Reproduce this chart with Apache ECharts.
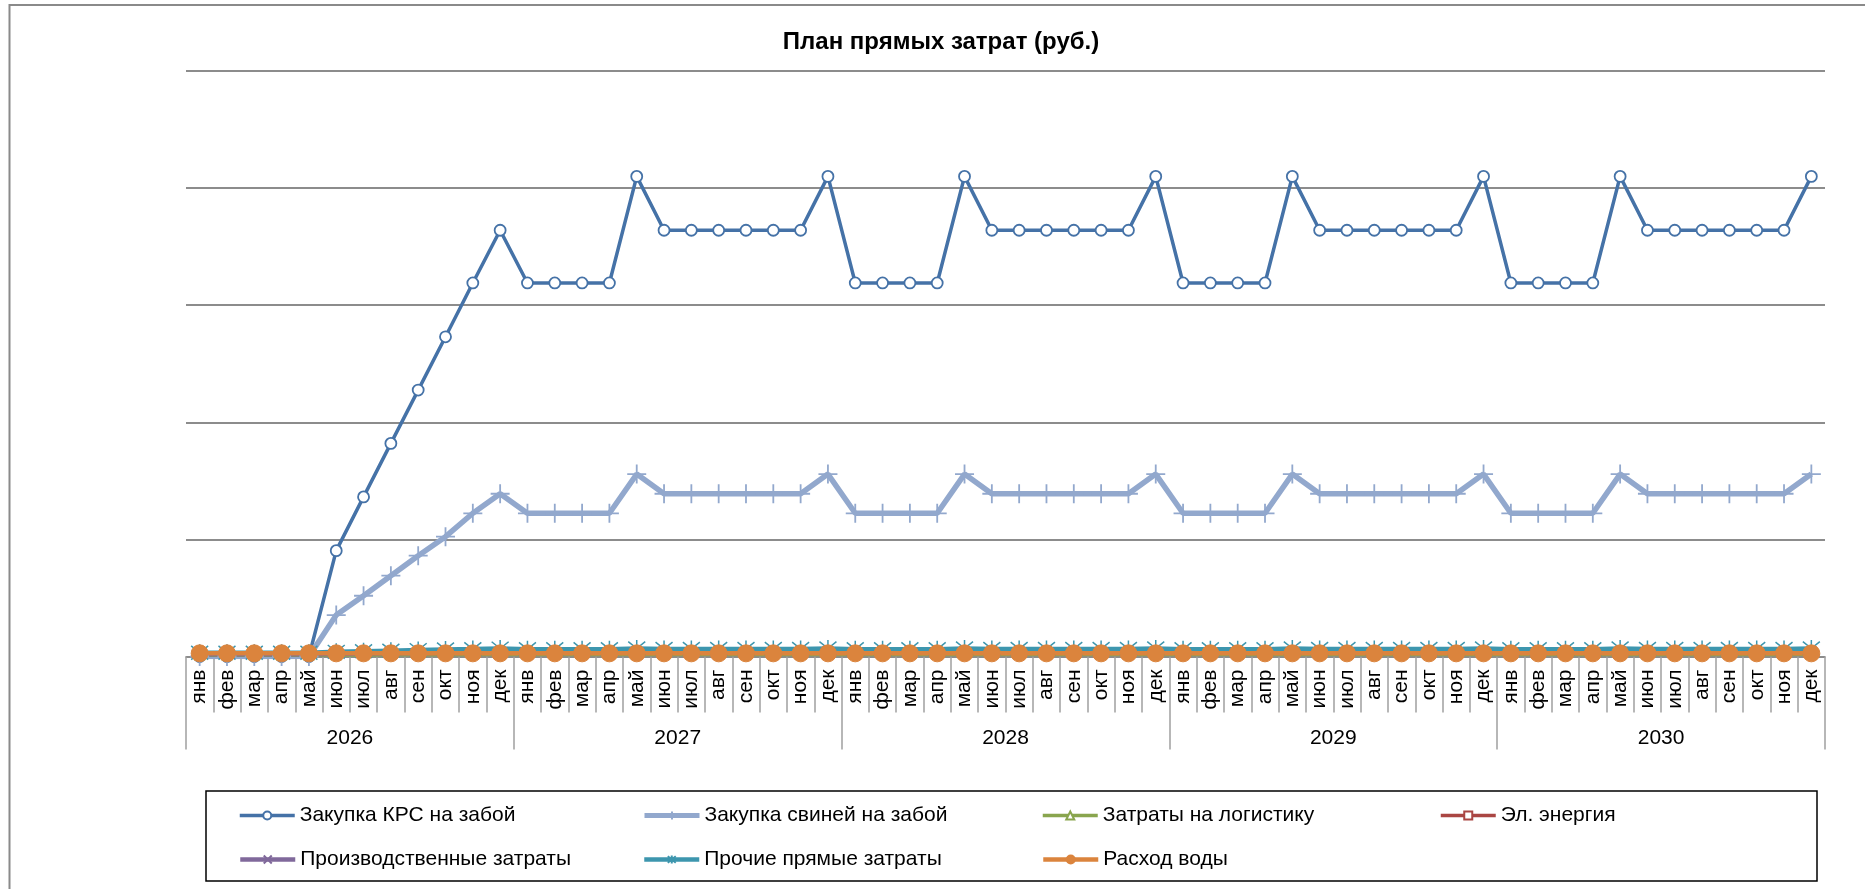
<!DOCTYPE html>
<html>
<head>
<meta charset="utf-8">
<script src="https://cdn.jsdelivr.net/npm/echarts@6/dist/echarts.min.js"></script>
<style>
html,body{margin:0;padding:0;background:#fff;}
#chart{width:1865px;height:889px;}
</style>
</head>
<body>
<div id="chart"></div>
<script>
// ---- data (thousand rubles) ----
const months = ['янв','фев','мар','апр','май','июн','июл','авг','сен','окт','ноя','дек'];
const years = ['2026','2027','2028','2029','2030'];

const krs = [
  0,0,0,0,0,9040,13630,18200,22750,27300,31900,36400,
  31900,31900,31900,31900,41000,36400,36400,36400,36400,36400,36400,41000,
  31900,31900,31900,31900,41000,36400,36400,36400,36400,36400,36400,41000,
  31900,31900,31900,31900,41000,36400,36400,36400,36400,36400,36400,41000,
  31900,31900,31900,31900,41000,36400,36400,36400,36400,36400,36400,41000
];
const pigs = [
  0,0,0,0,0,3540,5190,6900,8610,10230,12230,13900,
  12230,12230,12230,12230,15580,13900,13900,13900,13900,13900,13900,15580,
  12230,12230,12230,12230,15580,13900,13900,13900,13900,13900,13900,15580,
  12230,12230,12230,12230,15580,13900,13900,13900,13900,13900,13900,15580,
  12230,12230,12230,12230,15580,13900,13900,13900,13900,13900,13900,15580
];
const logistics = [
  100,100,100,100,100,120,130,140,150,160,170,180,
  170,170,170,170,190,180,180,180,180,180,180,190,
  170,170,170,170,190,180,180,180,180,180,180,190,
  170,170,170,170,190,180,180,180,180,180,180,190,
  170,170,170,170,190,180,180,180,180,180,180,190
];
const energy = [
  280,280,280,280,280,330,350,370,380,390,400,410,
  400,400,400,400,420,410,410,410,410,410,410,420,
  400,400,400,400,420,410,410,410,410,410,410,420,
  400,400,400,400,420,410,410,410,410,410,410,420,
  400,400,400,400,420,410,410,410,410,410,410,420
];
const production = [
  200,200,200,200,200,230,250,270,290,300,310,320,
  310,310,310,310,330,320,320,320,320,320,320,330,
  310,310,310,310,330,320,320,320,320,320,320,330,
  310,310,310,310,330,320,320,320,320,320,320,330,
  310,310,310,310,330,320,320,320,320,320,320,330
];
const other = [
  320,320,320,320,320,400,450,500,550,600,630,680,
  620,620,620,620,690,650,650,650,650,650,650,690,
  620,620,620,620,690,650,650,650,650,650,650,690,
  620,620,620,620,690,650,650,650,650,650,650,690,
  620,620,620,620,690,650,650,650,650,650,650,690
];
const water = [
  270,270,270,270,270,270,270,270,270,270,270,270,
  270,270,270,270,270,270,270,270,270,270,270,270,
  270,270,270,270,270,270,270,270,270,270,270,270,
  270,270,270,270,270,270,270,270,270,270,270,270,
  270,270,270,270,270,270,270,270,270,270,270,270
];
const names = ['Закупка КРС на забой','Закупка свиней на забой','Затраты на логистику','Эл. энергия','Производственные затраты','Прочие прямые затраты','Расход воды'];

// categories built from months x years
const cats = [];
years.forEach(function(){ months.forEach(function(m){ cats.push(m); }); });

const FONT = "'Liberation Sans', Arial, sans-serif";
const chart = echarts.init(document.getElementById('chart'));

const plusPath = 'path://M-10,0L10,0M0,-10L0,10';
const xPath = 'path://M-10,-10L10,10M-10,10L10,-10';
const starPath = 'path://M0,-10L0,10M-8,-8L8,8M-8,8L8,-8';

function legendAt(name, left, top, lw){
  return {
    data:[name], left:left, top:top, orient:'horizontal',
    itemWidth:55, itemHeight:10, padding:0,
    lineStyle:{width:lw},
    textStyle:{fontFamily:FONT, fontSize:21, color:'#000'},
    selectedMode:false
  };
}

const option = {
  animation:false,
  backgroundColor:'#fff',
  title:{
    text:'План прямых затрат (руб.)',
    left:936, top:25, textAlign:'center',
    textStyle:{fontFamily:FONT, fontSize:24, fontWeight:'bold', color:'#000'}
  },
  graphic:[
    {type:'rect', shape:{x:9.5, y:5, width:1900, height:1000}, style:{fill:'none', stroke:'#8a8a8a', lineWidth:2}, silent:true},
    {type:'rect', shape:{x:206, y:791, width:1611, height:90}, style:{fill:'none', stroke:'#000', lineWidth:1.5}, silent:true}
  ],
  legend:[
    legendAt(names[0], 238, 805, 3.5),
    legendAt(names[1], 642, 805, 5),
    legendAt(names[2], 1041, 805, 3.5),
    legendAt(names[3], 1439, 805, 3.5),
    legendAt(names[4], 238, 849, 4.5),
    legendAt(names[5], 642, 849, 4.5),
    legendAt(names[6], 1041, 849, 4.5)
  ],
  grid:{left:186, right:40, top:71, bottom:232.5, containLabel:false},
  xAxis:[
    {
      type:'category', data:cats, position:'bottom', offset:0, boundaryGap:true,
      axisLine:{show:true, lineStyle:{color:'#8c8c8c', width:1.5}},
      axisTick:{show:true, interval:0, length:56, lineStyle:{color:'#a0a0a0', width:1.5}},
      axisLabel:{interval:0, rotate:90, margin:13, fontFamily:FONT, fontSize:21, color:'#000'},
      splitLine:{show:false}
    },
    {
      type:'category', data:years, position:'bottom', offset:0, boundaryGap:true,
      axisLine:{show:false},
      axisTick:{show:true, interval:0, length:93, lineStyle:{color:'#a0a0a0', width:1.5}},
      axisLabel:{interval:0, margin:71, fontFamily:FONT, fontSize:21, color:'#000'},
      splitLine:{show:false}
    }
  ],
  yAxis:{
    type:'value', min:0, max:50000, interval:10000,
    axisLine:{show:false}, axisTick:{show:false}, axisLabel:{show:false},
    splitLine:{show:true, lineStyle:{color:'#8c8c8c', width:2}}
  },
  series:[
    {name:names[0], type:'line', data:krs, xAxisIndex:0,
     symbol:'circle', symbolSize:11, showAllSymbol:true,
     lineStyle:{color:'#4572A7', width:3.5},
     itemStyle:{color:'#ffffff', borderColor:'#4572A7', borderWidth:1.8}},
    {name:names[1], type:'line', data:pigs, xAxisIndex:0,
     symbol:plusPath, symbolSize:19, showAllSymbol:true,
     lineStyle:{color:'#92A8CD', width:5.5},
     itemStyle:{color:'#92A8CD', borderColor:'#92A8CD', borderWidth:1.8}},
    {name:names[2], type:'line', data:logistics, xAxisIndex:0,
     symbol:'triangle', symbolSize:9, showAllSymbol:true,
     lineStyle:{color:'#89A54E', width:3.5},
     itemStyle:{color:'#ffffff', borderColor:'#89A54E', borderWidth:1.5}},
    {name:names[3], type:'line', data:energy, xAxisIndex:0,
     symbol:'rect', symbolSize:9, showAllSymbol:true,
     lineStyle:{color:'#AA4643', width:3.5},
     itemStyle:{color:'#ffffff', borderColor:'#AA4643', borderWidth:1.5}},
    {name:names[4], type:'line', data:production, xAxisIndex:0,
     symbol:xPath, symbolSize:10, showAllSymbol:true,
     lineStyle:{color:'#80699B', width:4.5},
     itemStyle:{color:'#80699B', borderColor:'#80699B', borderWidth:1.5}},
    {name:names[5], type:'line', data:other, xAxisIndex:0,
     symbol:starPath, symbolSize:17, showAllSymbol:true,
     lineStyle:{color:'#3D96AE', width:4.5},
     itemStyle:{color:'#3D96AE', borderColor:'#3D96AE', borderWidth:1.5}},
    {name:names[6], type:'line', data:water, xAxisIndex:0,
     symbol:'circle', symbolSize:17, showAllSymbol:true,
     lineStyle:{color:'#DB843D', width:4.5},
     itemStyle:{color:'#DB843D', borderColor:'#DB843D', borderWidth:1}}
  ]
};
chart.setOption(option);
</script>
</body>
</html>
